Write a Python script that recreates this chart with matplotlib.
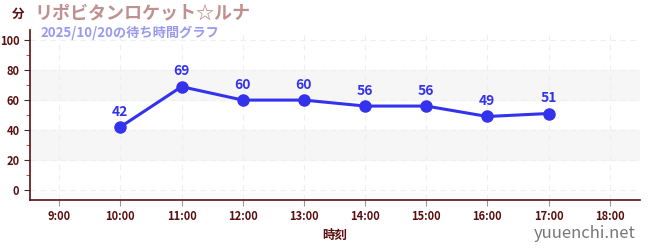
import matplotlib
matplotlib.use("Agg")
import matplotlib.pyplot as plt
from matplotlib.ticker import MultipleLocator

plt.rcParams['font.family'] = ['Noto Sans CJK JP', 'DejaVu Sans']

hours = [10, 11, 12, 13, 14, 15, 16, 17]
waits = [42, 69, 60, 60, 56, 56, 49, 51]
xtick_hours = [9, 10, 11, 12, 13, 14, 15, 16, 17, 18]
xtick_labels = [f"{h}:00" for h in xtick_hours]
ytick_vals = [0, 20, 40, 60, 80, 100]
title = "リポビタンロケット☆ルナ"
subtitle = "2025/10/20の待ち時間グラフ"

fig = plt.figure(figsize=(6.5, 2.5), dpi=100)
ax = fig.add_axes([0.046, 0.2, 0.939, 0.68])

dark = '#5a0f0f'
ax.set_xlim(8.52, 18.5)
ax.set_ylim(-7, 107)

for lo, hi in [(20, 40), (60, 80)]:
    ax.axhspan(lo, hi, color='#f6f6f6', zorder=0)

ax.set_xticks(xtick_hours)
ax.set_xticklabels(xtick_labels)
ax.set_yticks(ytick_vals)
ax.yaxis.set_minor_locator(MultipleLocator(10))
ax.tick_params(axis='y', which='minor', length=3, color='#dd2222')
ax.tick_params(axis='both', which='major', length=4, color='#333333',
               labelcolor=dark, labelsize=8)
ax.tick_params(axis='x', which='major', color='#999999')
for lab in ax.get_xticklabels() + ax.get_yticklabels():
    lab.set_fontweight('bold')
ax.grid(True, which='major', linestyle=(0, (5, 4)), color='#efefef', linewidth=0.8)
ax.set_axisbelow(True)

for s in ['top', 'right']:
    ax.spines[s].set_visible(False)
for s in ['left', 'bottom']:
    ax.spines[s].set_color(dark)
    ax.spines[s].set_linewidth(1.2)

ax.plot(hours, waits, color='#3333ee', linewidth=2.2, marker='o',
        markersize=8, zorder=3)
for h, w in zip(hours, waits):
    ax.annotate(str(w), (h, w), xytext=(0, 6), textcoords='offset points',
                ha='center', va='bottom', color='#3333ee', fontsize=10,
                fontweight='bold')

ax.set_xlabel('時刻', color=dark, fontsize=9, fontweight='bold', labelpad=4)

fig.text(12/650, 1 - 14/250, '分', color=dark, fontsize=9, fontweight='bold',
         ha='left', va='center')
fig.text(34/650, 1 - 13/250, title, color='#c09090', fontsize=13,
         fontweight='bold', ha='left', va='center')
fig.text(40/650, 1 - 33/250, subtitle, color='#9999ee', fontsize=9.5,
         fontweight='bold', ha='left', va='center')
fig.text(636/650, 1 - 233/250, 'yuuenchi.net', color='#777777', fontsize=12,
         ha='right', va='center')

fig.savefig('out.png', dpi=100)
